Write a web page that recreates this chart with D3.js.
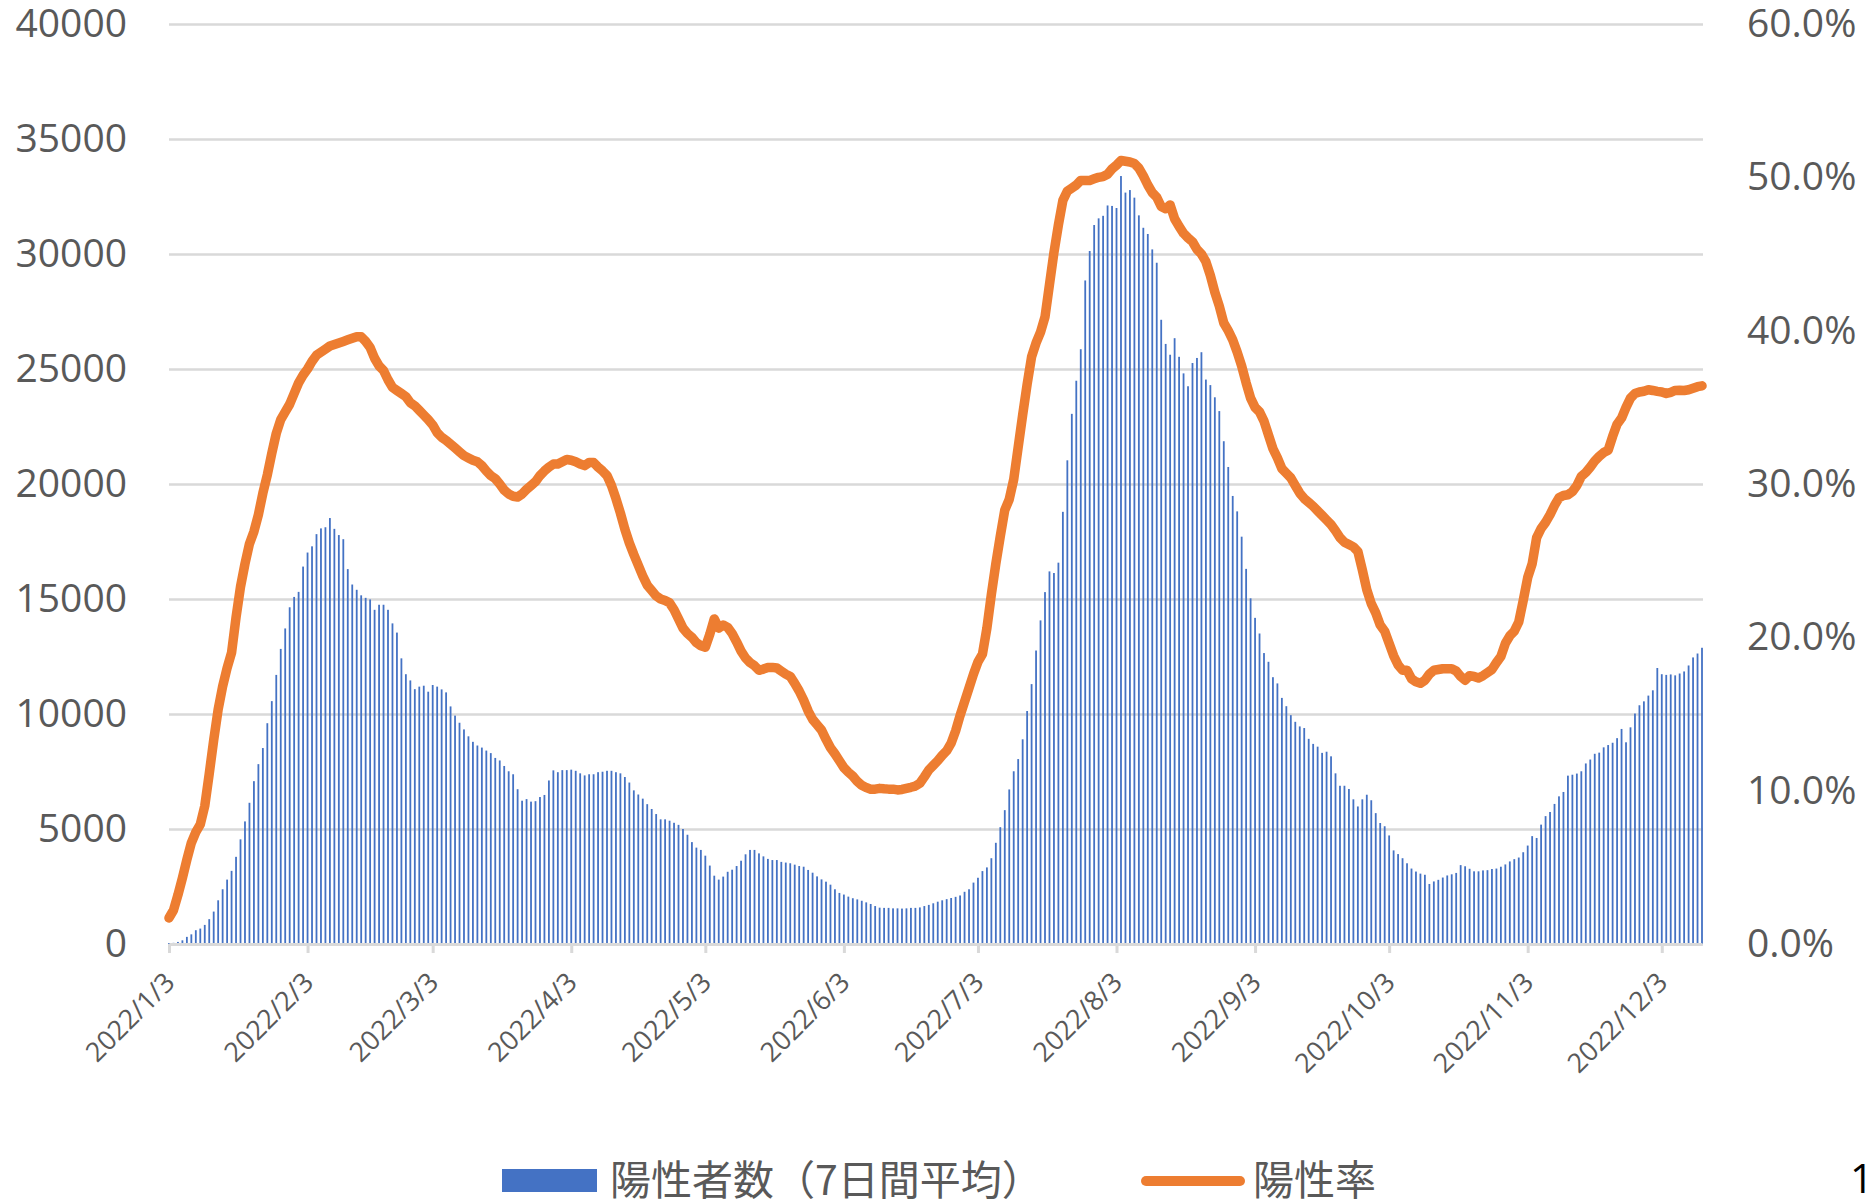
<!doctype html>
<html lang='ja'>
<head>
<meta charset='UTF-8'>
<title>陽性者数と陽性率</title>
<script src='https://cdn.jsdelivr.net/npm/d3@7/dist/d3.min.js'></script>
<style>
    body { margin: 0; background: #ffffff; }
</style>
<script>
    SVG_SIZE = { width: 1875, height: 1199 };
    PLOT = { left: 169, right: 1703, top: 24, bottom: 944 };

    // daily series, first value = 2022/1/3
    START_DATE = '2022-01-03';
    TICK_LABELS = ['2022/1/3', '2022/2/3', '2022/3/3', '2022/4/3', '2022/5/3', '2022/6/3',
        '2022/7/3', '2022/8/3', '2022/9/3', '2022/10/3', '2022/11/3', '2022/12/3'];
    LEFT_TICKS = [0, 5000, 10000, 15000, 20000, 25000, 30000, 35000, 40000];
    RIGHT_TICKS = [0, 10, 20, 30, 40, 50, 60];

    // 陽性者数（7日間平均）
    CASES_7D = [
        40, 50, 90, 160, 310, 420, 600, 670, 830, 1080,
        1410, 1900, 2380, 2800, 3180, 3790, 4550, 5330, 6140, 7080,
        7820, 8520, 9600, 10560, 11700, 12830, 13720, 14640, 15090, 15310,
        16410, 17020, 17290, 17820, 18070, 18120, 18520, 18050, 17780, 17600,
        16300, 15630, 15400, 15160, 15050, 14980, 14530, 14750, 14750, 14530,
        13940, 13540, 12420, 11730, 11460, 11080, 11190, 11230, 10970, 11260,
        11190, 11070, 10940, 10330, 9930, 9620, 9330, 9030, 8790, 8630,
        8540, 8410, 8300, 8090, 7980, 7740, 7510, 7380, 6730, 6230,
        6300, 6190, 6210, 6390, 6480, 7110, 7550, 7470, 7560, 7560,
        7580, 7530, 7420, 7330, 7380, 7380, 7470, 7490, 7530, 7530,
        7470, 7420, 7260, 7020, 6680, 6500, 6320, 6080, 5870, 5650,
        5420, 5420, 5360, 5270, 5180, 5000, 4750, 4430, 4190, 4090,
        3840, 3410, 2970, 2800, 2930, 3140, 3230, 3390, 3620, 3900,
        4090, 4090, 3940, 3810, 3700, 3650, 3650, 3570, 3540, 3510,
        3450, 3390, 3360, 3220, 3100, 2940, 2810, 2710, 2580, 2380,
        2220, 2150, 2060, 1990, 1940, 1880, 1810, 1740, 1650, 1580,
        1570, 1570, 1550, 1550, 1540, 1550, 1570, 1570, 1590, 1650,
        1700, 1770, 1840, 1900, 1950, 2000, 2050, 2110, 2270, 2380,
        2670, 2880, 3170, 3330, 3730, 4400, 5080, 5820, 6720, 7510,
        8040, 8900, 10130, 11300, 12760, 14070, 15300, 16200, 16130, 16580,
        18790, 21030, 23050, 24490, 25860, 28850, 30130, 31260, 31550, 31660,
        32110, 32090, 32000, 33390, 32670, 32780, 32450, 31680, 31140, 30870,
        30200, 29620, 27140, 26090, 25620, 26340, 25530, 24810, 24250, 25260,
        25480, 25730, 24540, 24300, 23770, 23170, 21860, 20740, 19480, 18810,
        17710, 16310, 15030, 14180, 13500, 12650, 12270, 11600, 11330, 10700,
        10340, 9950, 9660, 9460, 9390, 8920, 8700, 8580, 8310, 8360,
        8160, 7420, 6880, 6880, 6740, 6290, 5980, 6290, 6490, 6250,
        5690, 5260, 5120, 4720, 4070, 3910, 3730, 3510, 3280, 3150,
        3060, 3010, 2610, 2720, 2790, 2890, 2980, 3030, 3090, 3430,
        3380, 3270, 3160, 3160, 3200, 3210, 3260, 3280, 3360, 3460,
        3590, 3690, 3760, 3990, 4280, 4690, 4610, 5190, 5560, 5740,
        6090, 6420, 6610, 7320, 7360, 7410, 7510, 7850, 8020, 8270,
        8320, 8550, 8650, 8750, 8950, 9350, 8770, 9420, 10020, 10380,
        10550, 10800, 11030, 12000, 11730, 11700, 11720, 11680, 11760, 11850,
        12110, 12460, 12630, 12880
    ];

    // 陽性率 (%)
    POSITIVE_RATE = [
        1.7, 2.2, 3.2, 4.3, 5.5, 6.6, 7.3, 7.8, 9.0, 11.1,
        13.3, 15.3, 16.8, 18.0, 19.0, 21.3, 23.3, 24.8, 26.1, 26.9,
        28.0, 29.4, 30.6, 32.0, 33.3, 34.2, 34.7, 35.2, 35.9, 36.6,
        37.1, 37.5, 38.0, 38.4, 38.6, 38.8, 39.0, 39.1, 39.2, 39.3,
        39.4, 39.5, 39.6, 39.6, 39.3, 38.9, 38.2, 37.7, 37.4, 36.8,
        36.3, 36.1, 35.9, 35.7, 35.3, 35.1, 34.8, 34.5, 34.2, 33.85,
        33.35, 33.05, 32.85, 32.6, 32.35, 32.1, 31.85, 31.7, 31.55, 31.45,
        31.2, 30.85, 30.55, 30.35, 30.0, 29.6, 29.35, 29.2, 29.15, 29.35,
        29.65, 29.9, 30.15, 30.55, 30.85, 31.1, 31.3, 31.3, 31.45, 31.6,
        31.55, 31.45, 31.3, 31.2, 31.4, 31.4, 31.1, 30.85, 30.55, 29.9,
        29.05, 28.1, 27.05, 26.15, 25.4, 24.7, 24.0, 23.4, 23.05, 22.7,
        22.5, 22.4, 22.25, 21.8, 21.2, 20.6, 20.25, 20.0, 19.65, 19.45,
        19.35, 20.2, 21.2, 20.6, 20.8, 20.65, 20.25, 19.7, 19.1, 18.65,
        18.35, 18.15, 17.85, 17.93, 18.03, 18.04, 18.0, 17.8, 17.6, 17.45,
        17.0, 16.5, 15.9, 15.2, 14.65, 14.3, 13.95, 13.35, 12.8, 12.4,
        11.95, 11.5, 11.2, 10.95, 10.6, 10.35, 10.2, 10.1, 10.1, 10.15,
        10.12, 10.1, 10.1, 10.05, 10.08, 10.15, 10.22, 10.3, 10.48, 10.9,
        11.35, 11.65, 11.95, 12.3, 12.6, 13.1, 13.9, 14.9, 15.8, 16.7,
        17.6, 18.4, 18.9, 20.6, 22.8, 24.8, 26.6, 28.3, 29.0, 30.3,
        32.4, 34.5, 36.5, 38.3, 39.2, 39.9, 40.9, 43.0, 45.1, 46.9,
        48.5, 49.1, 49.3, 49.5, 49.8, 49.8, 49.8, 49.9, 50.0, 50.05,
        50.2, 50.55, 50.8, 51.1, 51.05, 51.0, 50.9, 50.6, 50.1, 49.5,
        49.0, 48.7, 48.1, 47.95, 48.2, 47.3, 46.8, 46.35, 46.05, 45.8,
        45.3, 45.0, 44.5, 43.6, 42.5, 41.6, 40.5, 40.0, 39.4, 38.6,
        37.7, 36.6, 35.6, 35.0, 34.7, 34.1, 33.2, 32.3, 31.7, 31.0,
        30.7, 30.4, 29.9, 29.4, 29.05, 28.8, 28.55, 28.25, 27.95, 27.65,
        27.35, 26.95, 26.5, 26.2, 26.05, 25.9, 25.6, 24.4, 23.1, 22.2,
        21.6, 20.8, 20.4, 19.6, 18.8, 18.2, 17.85, 17.85, 17.3, 17.1,
        17.0, 17.2, 17.6, 17.85, 17.9, 17.95, 17.95, 17.95, 17.8, 17.45,
        17.2, 17.5, 17.45, 17.35, 17.5, 17.7, 17.9, 18.35, 18.75, 19.6,
        20.1, 20.4, 21.0, 22.4, 23.9, 24.8, 26.5, 27.1, 27.5, 28.0,
        28.6, 29.1, 29.25, 29.3, 29.5, 29.9, 30.5, 30.75, 31.1, 31.5,
        31.8, 32.05, 32.2, 33.1, 33.9, 34.3, 35.0, 35.6, 35.9, 36.0,
        36.05, 36.15, 36.1, 36.04, 36.0, 35.9, 35.98, 36.1, 36.12, 36.1,
        36.15, 36.25, 36.35, 36.4
    ];

    function draw_chart() {
        let svg = d3.select('#chart').append('svg')
            .attr('width', SVG_SIZE.width).attr('height', SVG_SIZE.height)
            .style('background', '#ffffff');

        let start = d3.utcParse('%Y-%m-%d')(START_DATE);
        let days = CASES_7D.map(function (d, i) { return d3.utcDay.offset(start, i); });
        let tickDates = TICK_LABELS.map(d3.utcParse('%Y/%m/%d'));

        let xScale = d3.scaleUtc()
            .domain([days[0], days[days.length - 1]])
            .range([PLOT.left, PLOT.right - 1]);
        let yLeft = d3.scaleLinear().domain([0, 40000]).range([PLOT.bottom, PLOT.top]);
        let yRight = d3.scaleLinear().domain([0, 60]).range([PLOT.bottom, PLOT.top]);

        // gridlines + left labels
        let gLeft = svg.append('g')
            .attr('transform', 'translate(' + PLOT.left + ',0)')
            .call(d3.axisLeft(yLeft).tickValues(LEFT_TICKS)
                .tickSize(-(PLOT.right - PLOT.left)).tickPadding(42).tickFormat(d3.format('d')));
        gLeft.select('.domain').remove();
        gLeft.selectAll('line').attr('stroke', '#d9d9d9').attr('stroke-width', 2.5);
        gLeft.selectAll('text')
            .attr('font-family', 'Open Sans').attr('font-size', 39).attr('fill', '#595959');

        // right labels
        let gRight = svg.append('g')
            .attr('transform', 'translate(' + PLOT.right + ',0)')
            .call(d3.axisRight(yRight).tickValues(RIGHT_TICKS)
                .tickSize(0).tickPadding(44).tickFormat(function (d) { return d.toFixed(1) + '%'; }));
        gRight.select('.domain').remove();
        gRight.selectAll('text')
            .attr('font-family', 'Open Sans').attr('font-size', 39).attr('fill', '#595959');

        // bars
        let barW = 1.8;
        svg.append('g')
            .selectAll('rect')
            .data(CASES_7D)
            .join('rect')
            .attr('x', function (d, i) { return xScale(days[i]) - barW / 2; })
            .attr('y', function (d) { return yLeft(d); })
            .attr('width', barW)
            .attr('height', function (d) { return PLOT.bottom - yLeft(d); })
            .attr('fill', '#4472c4');

        // bottom axis
        let gBottom = svg.append('g')
            .attr('transform', 'translate(0,' + PLOT.bottom + ')')
            .call(d3.axisBottom(xScale).tickValues(tickDates).tickSize(9).tickSizeOuter(0)
                .tickFormat(function (d, i) { return TICK_LABELS[i]; }));
        gBottom.select('.domain').attr('stroke', '#d9d9d9').attr('stroke-width', 3);
        gBottom.selectAll('.tick line').attr('stroke', '#d9d9d9').attr('stroke-width', 3);
        gBottom.selectAll('text')
            .attr('font-family', 'Open Sans').attr('font-size', 27).attr('fill', '#595959')
            .attr('x', 0).attr('y', 0).attr('dy', 0)
            .attr('text-anchor', 'end')
            .attr('transform', 'translate(7,40) rotate(-45)');

        // positive rate line
        let line_generator = d3.line()
            .x(function (d, i) { return xScale(days[i]); })
            .y(function (d) { return yRight(d); });
        svg.append('path')
            .attr('d', line_generator(POSITIVE_RATE))
            .attr('fill', 'none')
            .attr('stroke', '#ed7d31')
            .attr('stroke-width', 9.5)
            .attr('stroke-linejoin', 'round')
            .attr('stroke-linecap', 'round');

        // legend
        let legend = svg.append('g').attr('font-family', 'Noto Sans CJK JP').attr('font-size', 41).attr('fill', '#595959');
        legend.append('rect').attr('x', 502).attr('y', 1169).attr('width', 95).attr('height', 23).attr('fill', '#4472c4');
        legend.append('text').attr('x', 610).attr('y', 1177).attr('dominant-baseline', 'central').text('陽性者数（7日間平均）');
        legend.append('line').attr('x1', 1146).attr('x2', 1240).attr('y1', 1181).attr('y2', 1181)
            .attr('stroke', '#ed7d31').attr('stroke-width', 10).attr('stroke-linecap', 'round');
        legend.append('text').attr('x', 1253).attr('y', 1177).attr('dominant-baseline', 'central').text('陽性率');

        svg.append('text').attr('x', 1850).attr('y', 1177).attr('dominant-baseline', 'central')
            .attr('font-family', 'Open Sans').attr('font-size', 41).attr('fill', '#000000').text('1');
    }
    window.onload = function () {
        draw_chart();
    }
</script>
</head>
<body>
<div id='chart'></div>
</body>
</html>
